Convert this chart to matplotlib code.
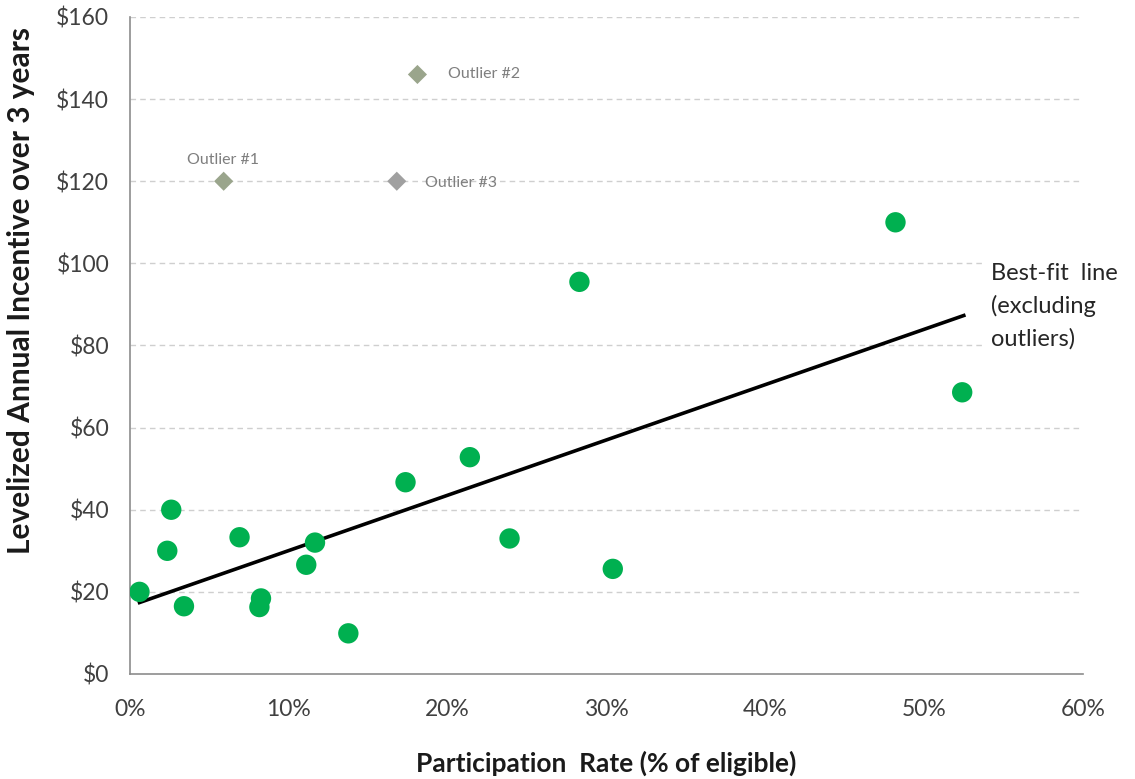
import numpy as np
import matplotlib.pyplot as plt

# participation rate (%) and levelized annual incentive ($)
rate = [0.6, 2.35, 2.6, 3.4, 6.9, 8.25, 8.15, 11.1, 11.65, 13.75, 17.35, 21.4, 23.9, 28.3, 30.4, 48.2, 52.4]
incentive = [20.0, 30.0, 40.0, 16.5, 33.3, 18.4, 16.3, 26.6, 32.0, 9.9, 46.7, 52.8, 33.0, 95.5, 25.6, 110.0, 68.6]

outlier_rate = [5.9, 18.1, 16.8]
outlier_incentive = [120, 146, 120]
outlier_names = ["Outlier #1", "Outlier #2", "Outlier #3"]
outlier_colors = ["#9aa58c", "#9aa58c", "#a0a0a0"]

fit_x = [0.6, 52.5]
fit_y = [17.4, 87.3]

plt.rcParams['font.family'] = ['Lato', 'DejaVu Sans']

fig = plt.figure(figsize=(11.35, 7.79), dpi=100)
ax = fig.add_axes([0.1145, 0.1348, 0.8396, 0.8434])

ax.set_xlim(0, 60)
ax.set_ylim(0, 160)

for y in range(20, 161, 20):
    ax.axhline(y, color="#cfcfcf", linestyle=(0, (4, 3)), linewidth=1.0, zorder=0)

ax.plot(fit_x, fit_y, color="black", linewidth=2.6, zorder=2)
ax.scatter(rate, incentive, s=215, color="#00b050", edgecolors="none", zorder=3)

for i in range(3):
    ax.scatter(outlier_rate[i], outlier_incentive[i], s=95, marker="D",
               color=outlier_colors[i], edgecolors="none", zorder=3)

ax.text(3.6, 123.5, outlier_names[0], fontsize=11.5, color="#7f7f7f", ha="left", va="bottom")
ax.text(20.0, 146, outlier_names[1], fontsize=11.5, color="#7f7f7f", ha="left", va="center")
ax.text(18.6, 119.5, outlier_names[2], fontsize=11.5, color="#7f7f7f", ha="left", va="center")

ax.text(54.2, 89.5, "Best-fit  line\n(excluding\noutliers)", fontsize=17, color="#262626",
        ha="left", va="center", linespacing=1.6,
        bbox=dict(facecolor="white", edgecolor="none", pad=4))

ax.set_xticks(range(0, 61, 10))
ax.set_xticklabels([f"{v}%" for v in range(0, 61, 10)])
ax.set_yticks(range(0, 161, 20))
ax.set_yticklabels([f"${v}" for v in range(0, 161, 20)])
ax.tick_params(length=0, labelsize=16.5, labelcolor="#404040")
ax.tick_params(axis="y", pad=15)
ax.tick_params(axis="x", pad=18)

for s in ["top", "right"]:
    ax.spines[s].set_visible(False)
for s in ["left", "bottom"]:
    ax.spines[s].set_color("#8c8c8c")
    ax.spines[s].set_linewidth(1.2)

ax.set_xlabel("Participation  Rate (% of eligible)", fontsize=19, fontweight="bold",
              color="#1a1a1a", va="center")
ax.xaxis.set_label_coords(0.5, -0.136)
ax.set_ylabel("Levelized Annual Incentive over 3 years", fontsize=21.5, fontweight="bold",
              color="#1a1a1a")
ax.yaxis.set_label_coords(-0.1, 0.583)

fig.savefig("out.png", dpi=100)
